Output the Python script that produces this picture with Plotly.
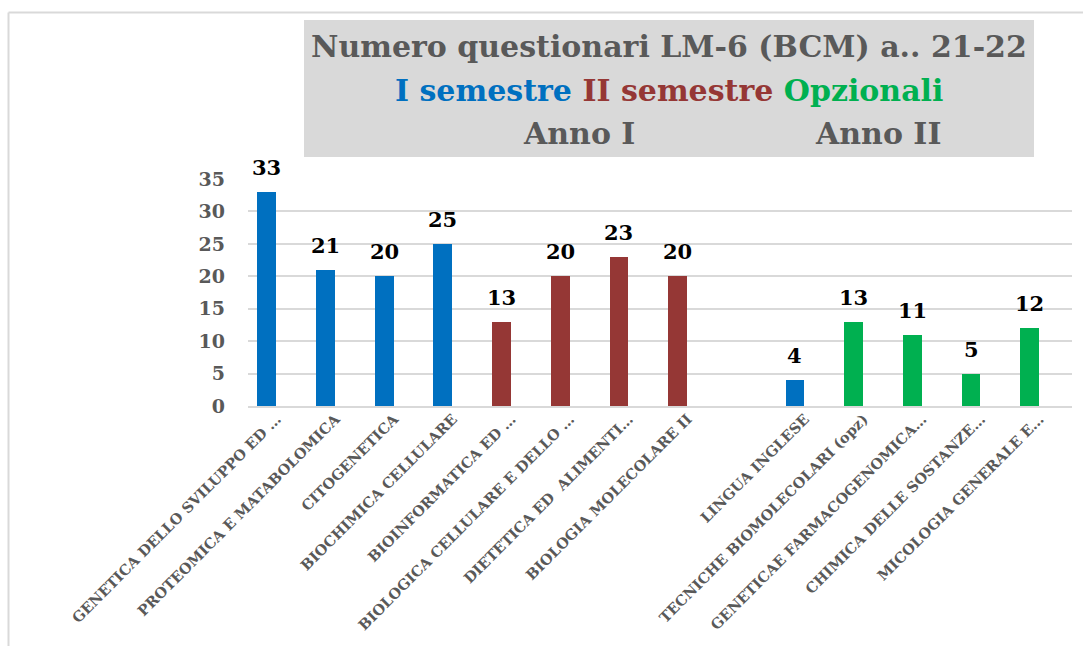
import plotly.graph_objects as go

categories = [
    "GENETICA DELLO SVILUPPO ED …",
    "PROTEOMICA E MATABOLOMICA",
    "CITOGENETICA",
    "BIOCHIMICA CELLULARE",
    "BIOINFORMATICA ED …",
    "BIOLOGICA CELLULARE E DELLO …",
    "DIETETICA ED  ALIMENTI…",
    "BIOLOGIA MOLECOLARE II",
    "",
    "LINGUA INGLESE",
    "TECNICHE BIOMOLECOLARI (opz)",
    "GENETICAE FARMACOGENOMICA…",
    "CHIMICA DELLE SOSTANZE…",
    "MICOLOGIA GENERALE E…",
]
values = [33, 21, 20, 25, 13, 20, 23, 20, None, 4, 13, 11, 5, 12]
groups = ["I", "I", "I", "I", "II", "II", "II", "II", None, "I", "O", "O", "O", "O"]
group_colors = {"I": "#0070C0", "II": "#953735", "O": "#00B050", None: "#FFFFFF"}
y_ticks = [0, 5, 10, 15, 20, 25, 30, 35]

W, H = 1083, 646
L, R, T, B = 248, 1072, 179, 406  # plot area in pixels

def px(x):
    return (x - L) / (R - L)

def py(y):
    return (B - y) / (B - T)

SERIF = "DejaVu Serif"
GRAY = "#595959"

xpos = list(range(len(categories)))
fig = go.Figure(
    go.Bar(
        x=xpos,
        y=values,
        marker=dict(color=[group_colors[g] for g in groups], line=dict(width=0)),
        width=0.32,
        hoverinfo="skip",
    )
)

# data labels
for xi, v in zip(xpos, values):
    if v is None:
        continue
    fig.add_annotation(x=xi, y=v, xref="x", yref="y", text=str(v),
                       showarrow=False, xanchor="center", yanchor="bottom", yshift=10,
                       font=dict(family=SERIF, size=21, color="#000000", weight="bold"))

fig.update_layout(
    width=W,
    height=H,
    margin=dict(l=L, r=W - R, t=T, b=H - B, pad=0),
    paper_bgcolor="white",
    plot_bgcolor="white",
    showlegend=False,
    bargap=0,
    xaxis=dict(
        range=[-0.32, 13.72],
        tickmode="array",
        tickvals=xpos,
        ticktext=categories,
        tickangle=-45,
        tickfont=dict(family=SERIF, size=14.5, color=GRAY, weight="bold"),
        ticklabelshift=10,
        ticklabelstandoff=-3,
        showgrid=False,
        showline=True,
        linecolor="#d9d9d9",
        linewidth=2,
        ticks="",
        zeroline=False,
    ),
    yaxis=dict(
        range=[0, 35],
        tickmode="array",
        tickvals=y_ticks,
        tickfont=dict(family=SERIF, size=19, color=GRAY, weight="bold"),
        showgrid=True,
        gridcolor="#d9d9d9",
        gridwidth=1.5,
        zeroline=False,
        showline=False,
        ticks="",
        ticklabelstandoff=22,
    ),
)

# outer frame (top and left edges)
fig.add_shape(type="line", xref="paper", yref="paper",
              x0=px(8.5), x1=px(1083), y0=py(12.5), y1=py(12.5),
              line=dict(color="#d9d9d9", width=2))
fig.add_shape(type="line", xref="paper", yref="paper",
              x0=px(8.5), x1=px(8.5), y0=py(12.5), y1=py(646),
              line=dict(color="#d9d9d9", width=2))

# title box
fig.add_shape(type="rect", xref="paper", yref="paper",
              x0=px(304), x1=px(1034), y0=py(157), y1=py(20),
              fillcolor="#d9d9d9", line=dict(width=0), layer="below")

TF = 30
fig.add_annotation(xref="paper", yref="paper", x=px(669), y=py(46),
                   xanchor="center", yanchor="middle",
                   text="Numero questionari LM-6 (BCM) a.. 21-22", showarrow=False,
                   font=dict(family=SERIF, size=TF, color=GRAY, weight="bold"))
fig.add_annotation(xref="paper", yref="paper", x=px(669), y=py(90),
                   xanchor="center", yanchor="middle",
                   text="<span style='color:#0070C0'>I semestre</span> "
                        "<span style='color:#953735'>II semestre</span> "
                        "<span style='color:#00B050'>Opzionali</span>",
                   showarrow=False,
                   font=dict(family=SERIF, size=TF, weight="bold"))
fig.add_annotation(xref="paper", yref="paper", x=px(579), y=py(133),
                   xanchor="center", yanchor="middle",
                   text="Anno I", showarrow=False,
                   font=dict(family=SERIF, size=TF, color=GRAY, weight="bold"))
fig.add_annotation(xref="paper", yref="paper", x=px(878), y=py(133),
                   xanchor="center", yanchor="middle",
                   text="Anno II", showarrow=False,
                   font=dict(family=SERIF, size=TF, color=GRAY, weight="bold"))

fig.write_html("out.html", config={"displayModeBar": False},
               post_script="document.body.style.margin='0';document.body.style.overflow='hidden';")
